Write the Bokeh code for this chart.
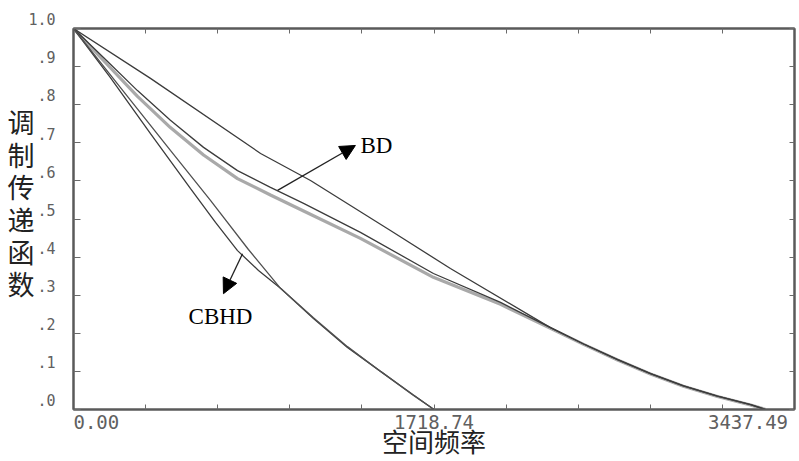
from bokeh.plotting import figure
from bokeh.models import LinearAxis, FixedTicker, Label, Arrow, NormalHead, Range1d
from bokeh.embed import file_html
from bokeh.resources import INLINE

# ---------------- data ----------------
X_MAX = 3437.49
x_tick_values = [0.0, 343.749, 687.498, 1031.247, 1374.996, 1718.745,
                 2062.494, 2406.243, 2749.992, 3093.741, 3437.49]
x_labelled = {0.0: "0.00", 1718.745: "1718.74", 3437.49: "3437.49"}

y_tick_values = [0.0, 0.1, 0.2, 0.3, 0.4, 0.5, 0.6, 0.7, 0.8, 0.9, 1.0]
y_tick_texts = [".0", ".1", ".2", ".3", ".4", ".5", ".6", ".7", ".8", ".9", "1.0"]

# upper reference curve
ref_x = [0, 367, 892, 1130, 1511, 1797, 2193, 2274, 2432, 2594, 2751, 2908, 3070, 3228, 3300]
ref_y = [1.0, 0.869, 0.672, 0.601, 0.470, 0.370, 0.241, 0.215, 0.172, 0.131, 0.094,
         0.062, 0.035, 0.013, 0.0]

# BD pair
bd_x = [0, 143, 305, 462, 620, 782, 939, 1097, 1368, 1716, 2036, 2274, 2432, 2594,
        2751, 2908, 3070, 3228, 3300]
bd1_y = [1.0, 0.924, 0.837, 0.759, 0.688, 0.627, 0.583, 0.541, 0.465, 0.357, 0.281,
         0.215, 0.172, 0.131, 0.094, 0.062, 0.035, 0.013, 0.0]
bd2_y = [1.0, 0.916, 0.822, 0.740, 0.668, 0.606, 0.563, 0.521, 0.449, 0.347, 0.276,
         0.213, 0.171, 0.130, 0.093, 0.061, 0.034, 0.012, 0.0]

# CBHD pair
cbhd1_x = [0, 176, 367, 558, 677, 782, 882, 987, 1144, 1306, 1464, 1621, 1718.74]
cbhd1_y = [1.0, 0.871, 0.724, 0.580, 0.491, 0.417, 0.365, 0.318, 0.239, 0.163, 0.100,
           0.038, 0.0]
cbhd2_x = [0, 224, 462, 653, 834, 987, 1144, 1306, 1464, 1621, 1718.74]
cbhd2_y = [1.0, 0.845, 0.680, 0.549, 0.420, 0.318, 0.241, 0.165, 0.100, 0.037, 0.0]

# ---------------- figure ----------------
p = figure(width=799, height=461, x_range=Range1d(0, X_MAX), y_range=Range1d(0, 1),
           output_backend="svg", toolbar_location=None,
           min_border_left=73, min_border_right=5, min_border_top=28, min_border_bottom=52)
p.grid.visible = False
p.outline_line_color = "#5a5a5a"
p.outline_line_width = 2
p.background_fill_color = "white"
p.border_fill_color = "white"

p.add_layout(LinearAxis(), "above")
p.add_layout(LinearAxis(), "right")

bottom, left = p.below[0], p.left[0]
top, right = p.above[0], p.right[0]

for ax in (bottom, top):
    ax.ticker = FixedTicker(ticks=x_tick_values)
for ax in (left, right):
    ax.ticker = FixedTicker(ticks=y_tick_values)

for ax in (bottom, top, left, right):
    ax.major_tick_in = 5
    ax.major_tick_out = 0
    ax.minor_tick_line_color = None
    ax.major_tick_line_color = "#6a6a6a"
    ax.major_tick_line_width = 1
    ax.axis_line_color = "#5a5a5a"
    ax.axis_line_width = 2
left.major_tick_in = 7

# mirrored axes: ticks only
top.major_label_overrides = {v: "" for v in x_tick_values}
right.major_label_overrides = {v: "" for v in y_tick_values}
for ax in (top, right):
    ax.major_label_text_font_size = "1px"
    ax.major_label_standoff = 0

TICK_FONT = "DejaVu Sans Mono"
NBSP = "\u00a0"

# bottom tick labels: first left-aligned (monospace padding), last kept at the edge
x_over = {}
for v in x_tick_values:
    t = x_labelled.get(v, "")
    if v == x_tick_values[0] and t:
        t = NBSP * len(t) + t
    elif v == x_tick_values[-1] and t:
        t = t + NBSP
    x_over[v] = t
bottom.major_label_overrides = x_over
bottom.major_label_text_font = TICK_FONT
bottom.major_label_text_font_size = "19px"
bottom.major_label_text_color = "#606060"
bottom.major_label_standoff = 1
bottom.axis_label = "空间频率"
bottom.axis_label_text_font = "Noto Sans CJK SC"
bottom.axis_label_text_font_size = "26px"
bottom.axis_label_text_font_style = "normal"
bottom.axis_label_text_color = "#222222"
bottom.axis_label_standoff = -14

# left tick labels sit slightly above their ticks (blank second line)
left.major_label_overrides = {v: t + "\n" + NBSP for v, t in zip(y_tick_values, y_tick_texts)}
left.major_label_text_font = TICK_FONT
left.major_label_text_font_size = "15px"
left.major_label_text_line_height = 0.92
left.major_label_text_color = "#606060"
left.major_label_standoff = 18
left.axis_label = "\n".join("调制传递函数") + "\n" + NBSP
left.axis_label_text_font = "Noto Sans CJK SC"
left.axis_label_text_font_size = "27px"
left.axis_label_text_font_style = "normal"
left.axis_label_text_color = "#222222"
left.axis_label_text_line_height = 0.83
left.axis_label_standoff = -9
if hasattr(left, "axis_label_orientation"):
    left.axis_label_orientation = "horizontal"

# curves
p.line(bd_x, bd2_y, line_color="#a0a0a0", line_width=3.2, line_alpha=0.9)
p.line(bd_x, bd1_y, line_color="#3c3c3c", line_width=1.3)
p.line(ref_x, ref_y, line_color="#3c3c3c", line_width=1.3)
p.line(cbhd1_x, cbhd1_y, line_color="#3c3c3c", line_width=1.3)
p.line(cbhd2_x, cbhd2_y, line_color="#505050", line_width=1.3)

# annotations
p.add_layout(Arrow(end=NormalHead(size=15, fill_color="black", line_color="black"),
                   x_start=973, y_start=0.575, x_end=1344, y_end=0.693,
                   line_color="#222222", line_width=1.3))
p.add_layout(Arrow(end=NormalHead(size=15, fill_color="black", line_color="black"),
                   x_start=806, y_start=0.409, x_end=715, y_end=0.304,
                   line_color="#222222", line_width=1.3))
p.add_layout(Label(x=1368, y=0.693, text="BD", text_align="left", text_baseline="middle",
                   text_font="Liberation Serif", text_font_size="23px", text_color="black"))
p.add_layout(Label(x=701, y=0.245, text="CBHD", text_align="center", text_baseline="middle",
                   text_font="Liberation Serif", text_font_size="23px", text_color="black"))

open("out.html", "w").write(file_html(p, INLINE))
